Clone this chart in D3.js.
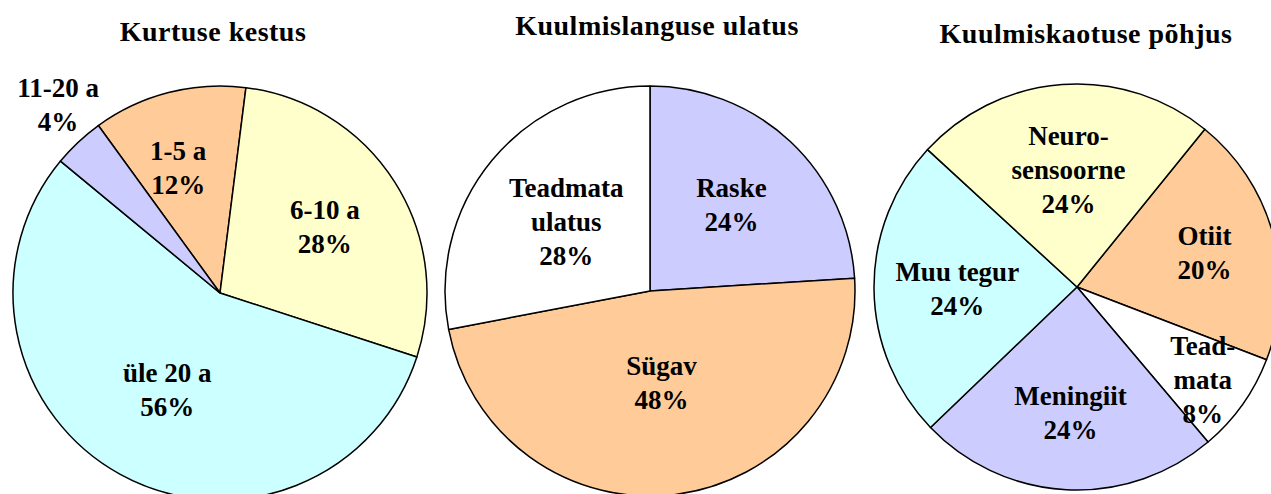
<!DOCTYPE html>
<html>
<head>
<meta charset="utf-8">
<script src="https://cdn.jsdelivr.net/npm/d3@7"></script>
<style>
    body { margin: 0; background: #ffffff; overflow: hidden; }
    text { font-family: "Liberation Serif", "Times New Roman", serif; font-weight: bold; fill: #000; }
</style>
</head>
<body>
<div id="charts"></div>
<script>
// Data (percent of respondents)
var durationLabels = ["1-5 a", "6-10 a", "üle 20 a", "11-20 a"];
var durationValues = [12, 28, 56, 4];

var severityLabels = ["Raske", "Sügav", "Teadmata\nulatus"];
var severityValues = [24, 48, 28];

var causeLabels = ["Otiit", "Tead-\nmata", "Meningiit", "Muu tegur", "Neuro-\nsensoorne"];
var causeValues = [20, 8, 24, 24, 24];

// Slice colours
var durationColors = ["#FFCC99", "#FFFFCC", "#CCFFFF", "#CCCCFF"];
var severityColors = ["#CCCCFF", "#FFCC99", "#FFFFFF"];
var causeColors = ["#FFCC99", "#FFFFFF", "#CCCCFF", "#CCFFFF", "#FFFFCC"];

// Layout for each pie (centre, radius, rotation, title and label placement)
// labelR = label distance as share of radius, labelA = small angle nudge in degrees
var charts = [
    { title: "Kurtuse kestus", labels: durationLabels, values: durationValues, colors: durationColors,
      cx: 220, cy: 293, r: 207, start: -36, titleX: 213, titleY: 41,
      labelR: [0.64, 0.6, 0.53, 1.2], labelA: [-4, 0, 0, 2.5] },
    { title: "Kuulmislanguse ulatus", labels: severityLabels, values: severityValues, colors: severityColors,
      cx: 650, cy: 291, r: 205, start: 0, titleX: 657, titleY: 35,
      labelR: [0.58, 0.45, 0.53], labelA: [0, 0, 0] },
    { title: "Kuulmiskaotuse põhjus", labels: causeLabels, values: causeValues, colors: causeColors,
      cx: 1077, cy: 287, r: 203, start: 39, titleX: 1086, titleY: 43,
      labelR: [0.65, 0.77, 0.62, 0.59, 0.58], labelA: [0, 1, 0, 0, 0] }
];

var fontSize = 27;
var lineHeight = 34;

function drawPies() {
    var svg = d3.select("#charts")
        .append("svg")
        .attr("width", 1271)
        .attr("height", 494);

    charts.forEach(function(c) {
        var s = c.start * Math.PI / 180;
        var pie = d3.pie()
            .sort(null)
            .startAngle(s)
            .endAngle(s + 2 * Math.PI)
            .value(d => d.value);

        var rows = c.labels.map(function(l, i) {
            return { label: l, value: c.values[i], color: c.colors[i], lr: c.labelR[i], la: c.labelA[i] };
        });

        var arc = d3.arc().innerRadius(0).outerRadius(c.r);

        var g = svg.append("g")
            .attr("transform", `translate(${c.cx}, ${c.cy})`);

        var arcs = pie(rows);

        g.selectAll("path")
            .data(arcs)
            .enter()
            .append("path")
            .attr("d", arc)
            .attr("fill", d => d.data.color)
            .attr("stroke", "#000")
            .attr("stroke-width", 1.5)
            .attr("stroke-linejoin", "round");

        // labels
        arcs.forEach(function(d) {
            var lr = c.r * d.data.lr;
            var mid = (d.startAngle + d.endAngle) / 2 + d.data.la * Math.PI / 180;
            var pos = [lr * Math.sin(mid), -lr * Math.cos(mid)];
            var lines = d.data.label.split("\n").concat([d.data.value + "%"]);
            var t = g.append("text")
                .attr("text-anchor", "middle")
                .style("font-size", fontSize + "px");
            lines.forEach(function(line, i) {
                t.append("tspan")
                    .attr("x", pos[0])
                    .attr("y", pos[1] + (i - (lines.length - 1) / 2) * lineHeight)
                    .attr("dy", "0.35em")
                    .text(line);
            });
        });

        // title
        svg.append("text")
            .attr("x", c.titleX)
            .attr("y", c.titleY)
            .attr("text-anchor", "middle")
            .style("font-size", "28px")
            .style("letter-spacing", "0.5px")
            .text(c.title);
    });
}

drawPies();
</script>
</body>
</html>
